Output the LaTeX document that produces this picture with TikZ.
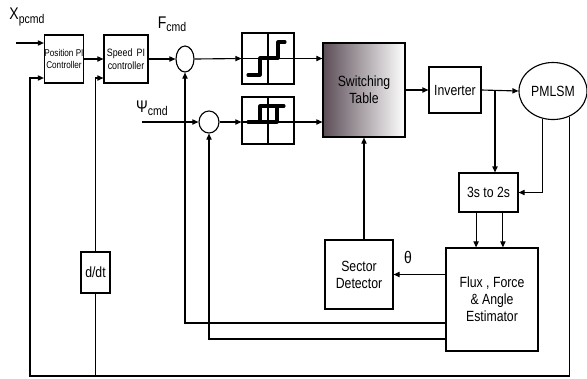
\documentclass[tikz,border=0pt]{standalone}
\usepackage{fontspec}
\setmainfont[FakeStretch=0.83]{Liberation Sans}
\usepackage{xcolor}
\usepackage{tikz}
\usetikzlibrary{positioning, arrows.meta, shapes.geometric}
\definecolor{tablegray}{RGB}{92,78,88}
\tikzset{
  blk/.style={draw=black, line width=0.8pt, inner sep=0pt, align=center, font=\fontsize{10.5}{12}\selectfont},
  sumj/.style={draw=black, line width=0.8pt, ellipse, inner sep=0pt},
  sig/.style={draw=black, line width=0.8pt, -{Triangle[length=1.5mm,width=1.3mm]}},
  wire/.style={draw=black, line width=0.8pt},
  relay/.style={line width=2.2pt, line cap=round, line join=round},
  lbl/.style={inner sep=0pt, font=\fontsize{12}{13}\selectfont},
}
\begin{document}
\begin{tikzpicture}[x=0.025cm, y=-0.025cm]
  \useasboundingbox (0,0) rectangle (587,378);
  % blocks
  \node [blk, minimum width=0.95cm, minimum height=1.2cm, font=\fontsize{7}{8.5}\selectfont] (pos) at (64,59) {Position PI\\Controller};
  \node [blk, minimum width=1.1cm, minimum height=1.2cm, font=\fontsize{7.6}{9.2}\selectfont] (spd) at (126,59) {Speed\,\ PI\\controller};
  \node [sumj, minimum width=0.45cm, minimum height=0.65cm] (sum1) at (185,59) {};   % force summing point
  \node [sumj, minimum width=0.5cm, minimum height=0.55cm] (sum2) at (209,122) {};   % flux summing point
  \node [blk, minimum width=1.3cm, minimum height=1.275cm] (rel1) at (268,58.5) {};  % three level comparator
  \node [blk, minimum width=1.3cm, minimum height=1.175cm] (rel2) at (268,120.5) {}; % two level comparator
  \node [blk, minimum width=2.05cm, minimum height=2.35cm, left color=tablegray, right color=white] (sw) at (364,90) {Switching\\Table};
  \node [blk, minimum width=1.3cm, minimum height=1.15cm] (inv) at (455,90) {Inverter};
  \node [blk, ellipse, minimum width=1.7cm, minimum height=1.425cm] (pmlsm) at (553,91) {PMLSM};
  \node [blk, minimum width=1.475cm, minimum height=0.975cm] (c32) at (488.5,192.5) {3s to 2s};
  \node [blk, minimum width=2.3cm, minimum height=2.575cm] (est) at (492,299.5) {Flux , Force\\\& Angle\\Estimator};
  \node [blk, minimum width=1.7cm, minimum height=1.725cm] (sec) at (359,274.5) {Sector\\Detector};
  \node [blk, minimum width=0.725cm, minimum height=1.025cm] (ddt) at (95.5,272.5) {d/dt};
  % labels
  \node [lbl] (xlbl) at (27,17) {X\raisebox{-0.35ex}{\fontsize{9}{10}\selectfont pcmd}};
  \node [lbl] (flbl) at (172,24) {F\raisebox{-0.35ex}{\fontsize{9}{10}\selectfont cmd}};
  \node [lbl] (psilbl) at (152,108) {Ψ\raisebox{-0.35ex}{\fontsize{9}{10}\selectfont cmd}};
  \node [lbl] (thlbl) at (408,257) {θ};
  \coordinate (xin) at (16,43);
  \coordinate (psiin) at (142,122);
  \coordinate (br) at (495,90);
  \coordinate (corner) at (30,376);
  % comparator characteristics
  \draw [wire] (rel1.north) -- (rel1.south);
  \draw [wire] (rel2.north) -- (rel2.south);
  \draw [relay] (248,75) -- (260,75) -- (260,58) -- (278,58) -- (278,42) -- (285,42);
  \draw [relay] (248,122) -- (277,122) -- (277,106);
  \draw [relay] (260,122) -- (260,106) -- (284,106);
  % forward path
  \draw [sig] (xin) -- (xin -| pos.west);
  \draw [sig] (pos.east) -- (spd.west);
  \draw [sig] (spd.east) -- (sum1.west);
  \draw [sig] (sum1.east) -- (rel1.west);
  \draw [wire] (rel1.west) -- (rel1.east);
  \draw [sig] (rel1.east) -- (sw.west |- rel1.east);
  \draw [sig] (psiin) -- (sum2.west);
  \draw [sig] (sum2.east) -- (rel2.west |- sum2.east);
  \draw [wire] (rel2.west |- sum2.east) -- (rel2.east |- sum2.east);
  \draw [sig] (rel2.east |- sum2.east) -- (sw.west |- sum2.east);
  \draw [sig] (sw.east) -- (inv.west);
  \draw [sig] (inv.east) -- (pmlsm.west);
  % measurement path
  \draw [sig] (br) -- (br |- c32.north);
  \draw [sig] (pmlsm.250) |- (c32.east);
  \draw [sig] ([xshift=-0.31cm]c32.south) -- ([xshift=-0.31cm]c32.south |- est.north);
  \draw [sig] ([xshift=0.36cm]c32.south) -- ([xshift=0.36cm]c32.south |- est.north);
  \draw [sig] (est.west |- sec.east) -- (sec.east);
  \draw [sig] (sw.south |- sec.north) -- (sw.south);
  \draw [sig] (est.west |- 0,323) -| (sum1.south);
  \draw [sig] (est.west |- 0,339) -| (sum2.south);
  % position and speed feedback
  \draw [sig] (pmlsm.-58) |- (corner) |- (pos.west |- 0,78);
  \draw [wire] (ddt.south) -- (ddt.south |- corner);
  \draw [sig] (ddt.north) |- (spd.west |- 0,78);
\end{tikzpicture}
\end{document}
